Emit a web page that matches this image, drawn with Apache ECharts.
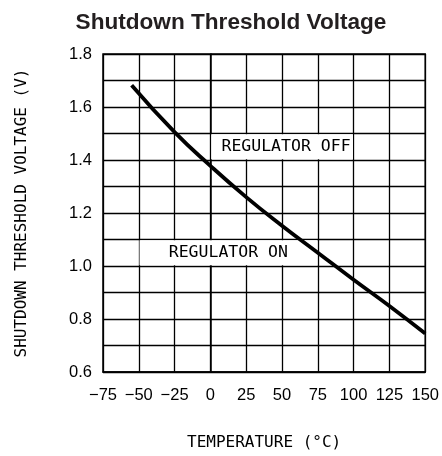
<!DOCTYPE html>
<html>
<head>
<meta charset="utf-8">
<script src="https://cdn.jsdelivr.net/npm/echarts@6/dist/echarts.min.js"></script>
<style>html,body{margin:0;padding:0;background:#fff}#c{width:442px;height:456px}</style>
</head>
<body>
<div id="c"></div>
<script>
const temperatures = [-55, -25, 0, 25, 50, 75, 100, 125, 150];
const thresholdVoltage = [1.682, 1.505, 1.378, 1.26, 1.152, 1.05, 0.948, 0.849, 0.745];
const xTicks = [-75, -50, -25, 0, 25, 50, 75, 100, 125, 150];
const yTickLabels = ['0.6', '0.8', '1.0', '1.2', '1.4', '1.6', '1.8'];
const regionLabels = ['REGULATOR OFF', 'REGULATOR ON'];

const chart = echarts.init(document.getElementById('c'));
const mono = 'DejaVu Sans Mono';
chart.setOption({
  animation: false,
  backgroundColor: '#fff',
  title: {
    text: 'Shutdown Threshold Voltage',
    left: 226, top: 6, textAlign: 'center',
    textStyle: { fontFamily: 'Liberation Sans', fontWeight: 'bold', fontSize: 22.6, color: '#231f20' }
  },
  grid: { left: 103, right: 15, top: 54, bottom: 79, show: true, borderColor: '#000', borderWidth: 1.5 },
  xAxis: {
    type: 'value', min: xTicks[0], max: xTicks[xTicks.length - 1], interval: 25,
    name: 'TEMPERATURE (°C)', nameLocation: 'middle', nameGap: 63,
    nameTextStyle: { fontFamily: mono, fontSize: 16, color: '#000' },
    axisLine: { show: true, lineStyle: { color: '#000', width: 1.5 } },
    axisTick: { show: false },
    axisLabel: { margin: 15, fontFamily: 'Liberation Sans', fontSize: 16.5, color: '#000',
      formatter: v => xTicks.includes(v) ? String(v).replace('-', '\u2212') : '' },
    splitLine: { show: true, lineStyle: { color: '#000', width: 1.3 } }
  },
  yAxis: {
    type: 'value', min: 0.6, max: 1.8, interval: 0.1,
    name: 'SHUTDOWN THRESHOLD VOLTAGE (V)', nameLocation: 'middle', nameGap: 73,
    nameTextStyle: { fontFamily: mono, fontSize: 16, color: '#000' },
    axisLine: { show: true, lineStyle: { color: '#000', width: 1.5 } },
    axisTick: { show: false },
    axisLabel: { margin: 11, fontFamily: 'Liberation Sans', fontSize: 16.5, color: '#000',
      formatter: v => { const s = v.toFixed(1); return yTickLabels.includes(s) ? s : ''; } },
    splitLine: { show: true, lineStyle: { color: '#000', width: 1.3 } }
  },
  series: [{
    type: 'line',
    data: temperatures.map((t, i) => [t, thresholdVoltage[i]]),
    smooth: 0.5,
    showSymbol: false,
    lineStyle: { color: '#000', width: 3.8 },
    z: 5,
    markArea: {
      silent: true,
      itemStyle: { color: '#fff' },
      label: { show: true, position: 'inside', fontFamily: mono, fontSize: 16.5, color: '#000' },
      data: [
        [{ coord: [0.5, 1.403], name: regionLabels[0], label: { offset: [4, 0] } }, { coord: [99.5, 1.497] }],
        [{ coord: [-49.5, 1.003], name: regionLabels[1] }, { coord: [74.5, 1.097] }]
      ]
    }
  }]
});
</script>
</body>
</html>
